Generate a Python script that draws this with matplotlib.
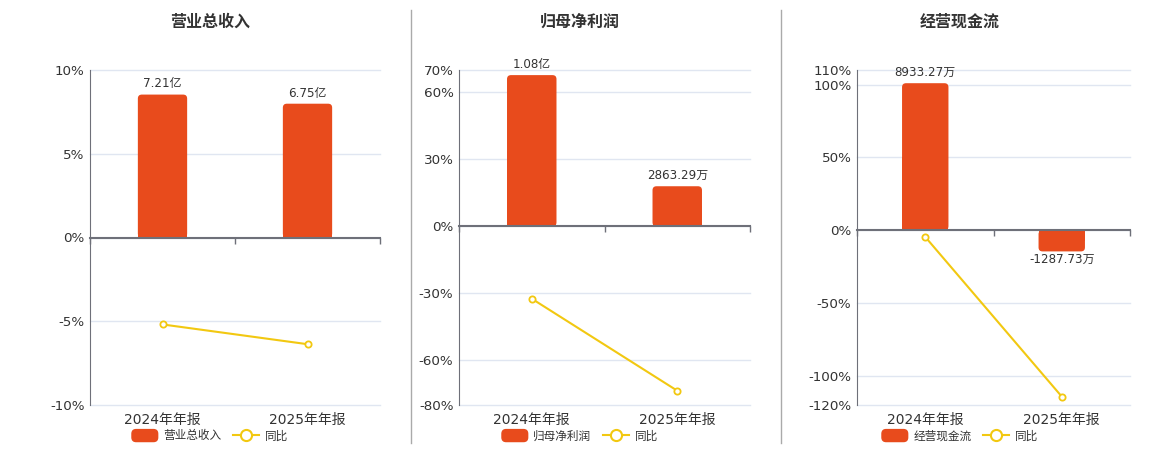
import matplotlib.pyplot as plt
import numpy as np
from matplotlib.patches import FancyBboxPatch, Patch
from matplotlib.lines import Line2D
from matplotlib.legend_handler import HandlerPatch

plt.rcParams['font.family'] = ['DejaVu Sans', 'Noto Sans CJK SC']

# data
categories = ['2024年年报', '2025年年报']
titles = ['营业总收入', '归母净利润', '经营现金流']

revenue = [7.21, 6.75]            # 亿
revenue_labels = ['7.21亿', '6.75亿']
revenue_yoy = [-5.19, -6.37]      # %

profit = [10800, 2863.29]         # 万
profit_labels = ['1.08亿', '2863.29万']
profit_yoy = [-32.4, -73.6]

cashflow = [8933.27, -1287.73]    # 万
cashflow_labels = ['8933.27万', '-1287.73万']
cashflow_yoy = [-4.6, -114.2]

# percent axis ticks per panel
pct_ticks = [[-10, -5, 0, 5, 10],
             [-80, -60, -30, 0, 30, 60, 70],
             [-120, -100, -50, 0, 50, 100, 110]]
# hidden bar axis limits (aligned to the percent axis)
bar_lims = [(-8.45, 8.45), (-80 * 159.5, 70 * 159.5), (-120 * 88.5, 110 * 88.5)]

bar_values = [revenue, profit, cashflow]
bar_texts = [revenue_labels, profit_labels, cashflow_labels]
yoy_values = [revenue_yoy, profit_yoy, cashflow_yoy]

BAR_COLOR = '#E84B1C'
LINE_COLOR = '#F2C811'
AXIS_COLOR = '#6E7079'
GRID_COLOR = '#E0E6F1'
TEXT_COLOR = '#333333'

W, H = 1160, 450
fig = plt.figure(figsize=(W / 100, H / 100), dpi=100)

# axes boxes in pixels: left, right, top, bottom
boxes = [(90, 380, 70, 405), (459, 750, 70, 405), (857, 1130, 70, 405)]
centers = [210, 580, 960]


def round_patch(legend, orig_handle, xdescent, ydescent, width, height, fontsize):
    return FancyBboxPatch((-xdescent, -ydescent), width, height,
                          boxstyle='round,pad=0,rounding_size=3')


x = np.arange(len(categories))
bw = 0.34

for i in range(3):
    l, r, t, b = boxes[i]
    ax = fig.add_axes([l / W, 1 - b / H, (r - l) / W, (b - t) / H])
    ax2 = ax.twinx()

    ticks = pct_ticks[i]
    ax.set_ylim(ticks[0], ticks[-1])
    ax.set_xlim(-0.5, len(categories) - 0.5)
    ax2.set_ylim(*bar_lims[i])

    # percent axis
    ax.set_yticks(ticks)
    ax.set_yticklabels([f'{v}%' for v in ticks])
    ax.tick_params(axis='y', length=0, pad=4, labelsize=9.7, labelcolor=TEXT_COLOR)
    ax.yaxis.grid(True, color=GRID_COLOR, linewidth=1)
    for gl in ax.get_ygridlines():
        gl.set_clip_on(False)
    ax.set_axisbelow(True)
    for s in ['top', 'right', 'bottom']:
        ax.spines[s].set_visible(False)
    ax.spines['left'].set_color(AXIS_COLOR)

    ax.set_xticks(x)
    ax.set_xticklabels(categories)
    ax.set_xticks([-0.5, 0.5, 1.5], minor=True)
    ax.tick_params(axis='x', which='both', length=0, pad=6, labelsize=10,
                   labelcolor=TEXT_COLOR)

    # yoy line
    ax.plot(x, yoy_values[i], color=LINE_COLOR, linewidth=1.5, marker='o',
            markersize=4.5, markerfacecolor='white', markeredgecolor=LINE_COLOR,
            markeredgewidth=1.3, zorder=3)

    # bar axis
    ax2.yaxis.set_visible(False)
    ax2.xaxis.set_visible(True)
    for s in ['top', 'right', 'left']:
        ax2.spines[s].set_visible(False)
    ax2.spines['bottom'].set_position(('data', 0))
    ax2.spines['bottom'].set_color(AXIS_COLOR)
    ax2.spines['bottom'].set_linewidth(1.5)
    ax2.tick_params(axis='x', which='major', length=0, labelbottom=False)
    ax2.tick_params(axis='x', which='minor', length=4, width=1, color=AXIS_COLOR,
                    direction='out')

    bars = ax2.bar(x, bar_values[i], width=bw, color=BAR_COLOR, linewidth=0)
    ylo, yhi = bar_lims[i]
    px_x = (r - l) / (len(categories))
    px_y = (b - t) / (yhi - ylo)
    rad = 4 / px_x
    aspect = px_x / px_y
    for rect, txt in zip(bars, bar_texts[i]):
        bx, by, w, h = rect.get_x(), rect.get_y(), rect.get_width(), rect.get_height()
        y0 = min(by, by + h)
        ax2.add_patch(FancyBboxPatch((bx, y0), w, abs(h),
                                     boxstyle=f'round,pad=0,rounding_size={rad}',
                                     mutation_aspect=aspect, color=BAR_COLOR,
                                     linewidth=0))
        rect.set_height(h / 2)
        if h >= 0:
            ax2.annotate(txt, (bx + w / 2, by + h), xytext=(0, 3),
                         textcoords='offset points', ha='center', va='bottom',
                         fontsize=8.6, color=TEXT_COLOR)
        else:
            ax2.annotate(txt, (bx + w / 2, by + h), xytext=(0, -1),
                         textcoords='offset points', ha='center', va='top',
                         fontsize=8.6, color=TEXT_COLOR)

    fig.text(centers[i] / W, 1 - 22 / H, titles[i], ha='center', va='center',
             fontsize=11.5, fontweight='bold', color=TEXT_COLOR)

    handles = [Patch(color=BAR_COLOR, label=titles[i]),
               Line2D([], [], color=LINE_COLOR, linewidth=1.5, marker='o',
                      markersize=8, markerfacecolor='white',
                      markeredgecolor=LINE_COLOR, markeredgewidth=1.5, label='同比')]
    fig.legend(handles=handles, loc='center', ncol=2, frameon=False,
               bbox_to_anchor=(centers[i] / W, 1 - 436 / H), fontsize=8.4,
               handlelength=2.2, handleheight=1.2, handletextpad=0.5,
               columnspacing=1.0, labelcolor=TEXT_COLOR,
               handler_map={Patch: HandlerPatch(patch_func=round_patch)})

# panel separators
for sx in [410.5, 781]:
    fig.add_artist(Line2D([sx / W, sx / W], [1 - 10 / H, 1 - 443 / H],
                          color='#AAAAAA', linewidth=1))

fig.savefig('out.png', dpi=100)
